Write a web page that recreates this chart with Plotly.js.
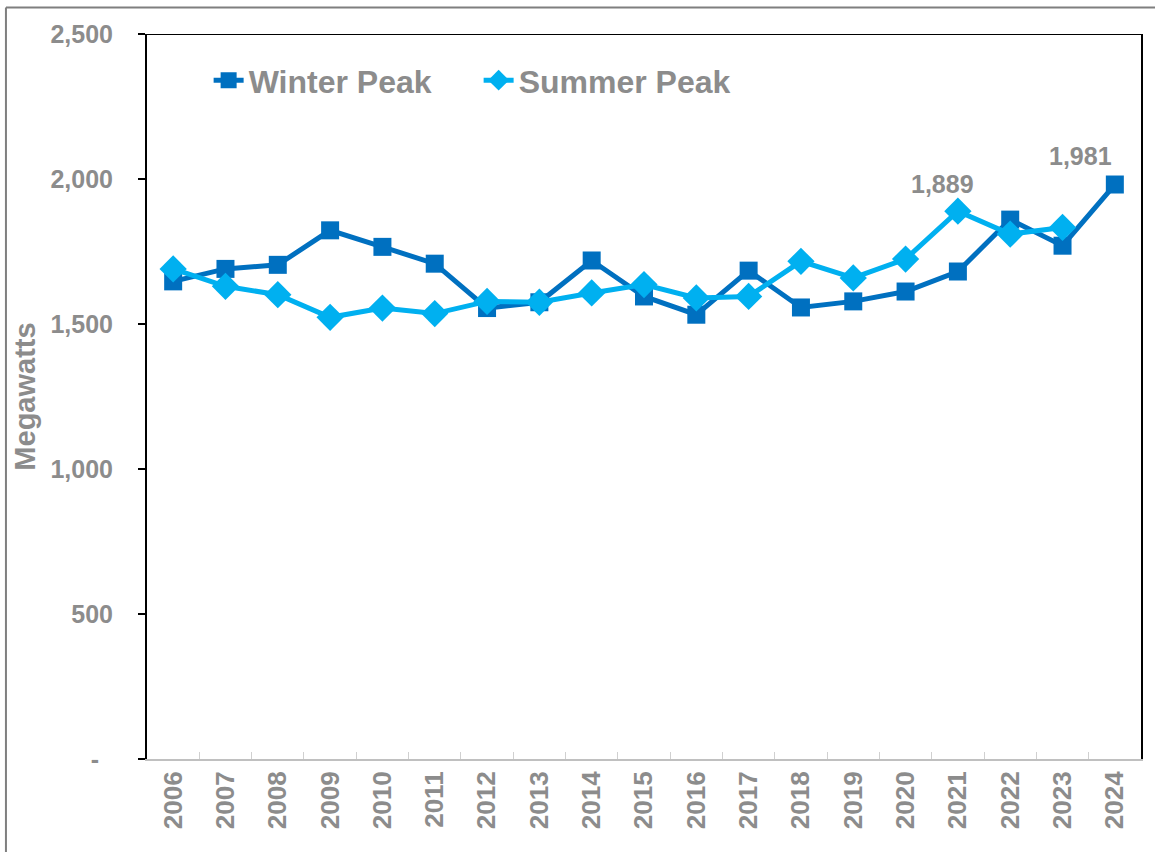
<!DOCTYPE html>
<html>
<head>
<meta charset="utf-8">
<script src="https://cdn.plot.ly/plotly-3.0.1.min.js"></script>
<style>html,body{margin:0;padding:0;background:#fff;}#chart{width:1155px;height:852px;}</style>
</head>
<body>
<div id="chart"></div>
<script>
const years = ["2006","2007","2008","2009","2010","2011","2012","2013","2014","2015","2016","2017","2018","2019","2020","2021","2022","2023","2024"];
const winterPeak = [1647,1690,1704,1823,1766,1708,1555,1575,1719,1595,1532,1684,1557,1578,1612,1681,1860,1770,1981];
const summerYears = ["2006","2007","2008","2009","2010","2011","2012","2013","2014","2015","2016","2017","2018","2019","2020","2021","2022","2023"];
const summerPeak = [1690,1630,1601,1523,1555,1536,1578,1575,1607,1636,1590,1595,1716,1659,1724,1889,1810,1833];
const yTickVals = [0,500,1000,1500,2000,2500];
const yTickText = ["-\u00a0\u00a0","500","1,000","1,500","2,000","2,500"];

const gray = "#8c8c8c";
const fam = "Liberation Sans, Arial, sans-serif";
const fmt = v => v.toLocaleString("en-US");

const winter = {
  x: years, y: winterPeak, name: "Winter Peak", type: "scatter", mode: "lines+markers",
  line: {color: "#0070C0", width: 5},
  marker: {symbol: "square", size: 18, color: "#0070C0"}
};
const summer = {
  x: summerYears, y: summerPeak, name: "Summer Peak", type: "scatter", mode: "lines+markers",
  line: {color: "#00B0F0", width: 5},
  marker: {symbol: "diamond", size: 21, color: "#00B0F0"}
};

const sIdx = summerPeak.indexOf(Math.max(...summerPeak));
const wIdx = winterPeak.indexOf(Math.max(...winterPeak));

const layout = {
  width: 1155, height: 852,
  margin: {l: 147, r: 14, t: 34, b: 93},
  paper_bgcolor: "#fff", plot_bgcolor: "#fff",
  showlegend: true,
  legend: {orientation: "h", x: 0.062, y: 0.974, xanchor: "left", yanchor: "top",
    entrywidth: 225, entrywidthmode: "pixels",
    font: {family: fam, size: 32, color: gray, weight: "bold"}, bgcolor: "rgba(0,0,0,0)"},
  xaxis: {
    type: "category", showgrid: false, zeroline: false,
    showline: true, linecolor: "#c0c0c0", linewidth: 2,
    ticks: "inside", tickson: "boundaries", ticklen: 7, tickcolor: "#d0d0d0", tickwidth: 1,
    tickangle: -90, tickfont: {family: fam, size: 26, color: gray, weight: "bold"},
    range: [-0.5, years.length - 0.5]
  },
  yaxis: {
    range: [0, 2500], showgrid: false, zeroline: false,
    showline: true, linecolor: "#000", linewidth: 2, mirror: true,
    ticks: "outside", ticklen: 7, tickcolor: "#000", tickwidth: 2,
    tickvals: yTickVals, ticktext: yTickText, ticklabelstandoff: 20,
    tickfont: {family: fam, size: 25, color: gray, weight: "bold"},
    title: {text: "Megawatts", standoff: 6, font: {family: fam, size: 29, color: gray, weight: "bold"}}
  },
  shapes: [
    {type: "line", xref: "paper", yref: "y", x0: 0, x1: 1, y0: 2500, y1: 2500, line: {color: "#000", width: 2}},
    {type: "line", xref: "paper", yref: "paper", x0: -0.1419, x1: 1.2, y0: 1.0365, y1: 1.0365, line: {color: "#7f7f7f", width: 2}},
    {type: "line", xref: "paper", yref: "paper", x0: -0.1419, x1: -0.1419, y0: 1.0365, y1: -0.2, line: {color: "#7f7f7f", width: 2}}
  ],
  annotations: [
    {xref: "x", yref: "y", x: sIdx, y: summerPeak[sIdx], text: fmt(summerPeak[sIdx]), showarrow: false,
     yshift: 27, xshift: -15, font: {family: fam, size: 25, color: gray, weight: "bold"}},
    {xref: "x", yref: "y", x: wIdx, y: winterPeak[wIdx], text: fmt(winterPeak[wIdx]), showarrow: false,
     yshift: 29, xshift: -34, font: {family: fam, size: 25, color: gray, weight: "bold"}}
  ]
};

Plotly.newPlot("chart", [winter, summer], layout, {displayModeBar: false, staticPlot: true});
</script>
</body>
</html>
